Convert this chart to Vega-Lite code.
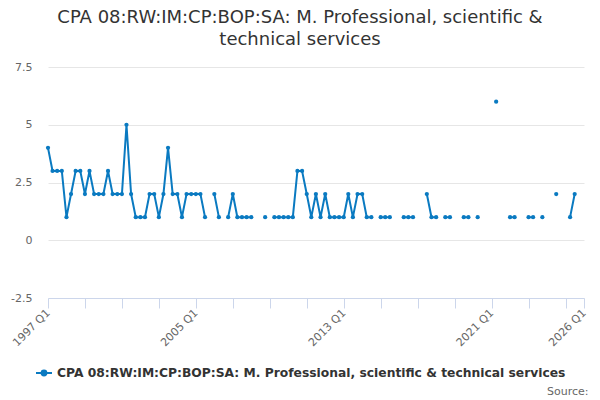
{
  "$schema": "https://vega.github.io/schema/vega-lite/v6.json",
  "width": 536,
  "height": 231,
  "autosize": "none",
  "padding": {"left": 48, "top": 67, "right": 16, "bottom": 102},
  "background": "white",
  "config": {"view": {"stroke": null}, "font": "DejaVu Sans"},
  "title": {
    "text": ["CPA 08:RW:IM:CP:BOP:SA: M. Professional, scientific &", "technical services"],
    "fontSize": 18,
    "fontWeight": "normal",
    "color": "#333333",
    "anchor": "middle",
    "frame": "group",
    "dx": -16,
    "offset": 12,
    "lineHeight": 22
  },
  "data": {
    "values": [
      {"quarter": "1997-01-01", "value": 4}, {"quarter": "1997-04-01", "value": 3}, {"quarter": "1997-07-01", "value": 3}, {"quarter": "1997-10-01", "value": 3},
      {"quarter": "1998-01-01", "value": 1}, {"quarter": "1998-04-01", "value": 2}, {"quarter": "1998-07-01", "value": 3}, {"quarter": "1998-10-01", "value": 3},
      {"quarter": "1999-01-01", "value": 2}, {"quarter": "1999-04-01", "value": 3}, {"quarter": "1999-07-01", "value": 2}, {"quarter": "1999-10-01", "value": 2},
      {"quarter": "2000-01-01", "value": 2}, {"quarter": "2000-04-01", "value": 3}, {"quarter": "2000-07-01", "value": 2}, {"quarter": "2000-10-01", "value": 2},
      {"quarter": "2001-01-01", "value": 2}, {"quarter": "2001-04-01", "value": 5}, {"quarter": "2001-07-01", "value": 2}, {"quarter": "2001-10-01", "value": 1},
      {"quarter": "2002-01-01", "value": 1}, {"quarter": "2002-04-01", "value": 1}, {"quarter": "2002-07-01", "value": 2}, {"quarter": "2002-10-01", "value": 2},
      {"quarter": "2003-01-01", "value": 1}, {"quarter": "2003-04-01", "value": 2}, {"quarter": "2003-07-01", "value": 4}, {"quarter": "2003-10-01", "value": 2},
      {"quarter": "2004-01-01", "value": 2}, {"quarter": "2004-04-01", "value": 1}, {"quarter": "2004-07-01", "value": 2}, {"quarter": "2004-10-01", "value": 2},
      {"quarter": "2005-01-01", "value": 2}, {"quarter": "2005-04-01", "value": 2}, {"quarter": "2005-07-01", "value": 1}, {"quarter": "2005-10-01", "value": null},
      {"quarter": "2006-01-01", "value": 2}, {"quarter": "2006-04-01", "value": 1}, {"quarter": "2006-07-01", "value": null}, {"quarter": "2006-10-01", "value": 1},
      {"quarter": "2007-01-01", "value": 2}, {"quarter": "2007-04-01", "value": 1}, {"quarter": "2007-07-01", "value": 1}, {"quarter": "2007-10-01", "value": 1},
      {"quarter": "2008-01-01", "value": 1}, {"quarter": "2008-04-01", "value": null}, {"quarter": "2008-07-01", "value": null}, {"quarter": "2008-10-01", "value": 1},
      {"quarter": "2009-01-01", "value": null}, {"quarter": "2009-04-01", "value": 1}, {"quarter": "2009-07-01", "value": 1}, {"quarter": "2009-10-01", "value": 1},
      {"quarter": "2010-01-01", "value": 1}, {"quarter": "2010-04-01", "value": 1}, {"quarter": "2010-07-01", "value": 3}, {"quarter": "2010-10-01", "value": 3},
      {"quarter": "2011-01-01", "value": 2}, {"quarter": "2011-04-01", "value": 1}, {"quarter": "2011-07-01", "value": 2}, {"quarter": "2011-10-01", "value": 1},
      {"quarter": "2012-01-01", "value": 2}, {"quarter": "2012-04-01", "value": 1}, {"quarter": "2012-07-01", "value": 1}, {"quarter": "2012-10-01", "value": 1},
      {"quarter": "2013-01-01", "value": 1}, {"quarter": "2013-04-01", "value": 2}, {"quarter": "2013-07-01", "value": 1}, {"quarter": "2013-10-01", "value": 2},
      {"quarter": "2014-01-01", "value": 2}, {"quarter": "2014-04-01", "value": 1}, {"quarter": "2014-07-01", "value": 1}, {"quarter": "2014-10-01", "value": null},
      {"quarter": "2015-01-01", "value": 1}, {"quarter": "2015-04-01", "value": 1}, {"quarter": "2015-07-01", "value": 1}, {"quarter": "2015-10-01", "value": null},
      {"quarter": "2016-01-01", "value": null}, {"quarter": "2016-04-01", "value": 1}, {"quarter": "2016-07-01", "value": 1}, {"quarter": "2016-10-01", "value": 1},
      {"quarter": "2017-01-01", "value": null}, {"quarter": "2017-04-01", "value": null}, {"quarter": "2017-07-01", "value": 2}, {"quarter": "2017-10-01", "value": 1},
      {"quarter": "2018-01-01", "value": 1}, {"quarter": "2018-04-01", "value": null}, {"quarter": "2018-07-01", "value": 1}, {"quarter": "2018-10-01", "value": 1},
      {"quarter": "2019-01-01", "value": null}, {"quarter": "2019-04-01", "value": null}, {"quarter": "2019-07-01", "value": 1}, {"quarter": "2019-10-01", "value": 1},
      {"quarter": "2020-01-01", "value": null}, {"quarter": "2020-04-01", "value": 1}, {"quarter": "2020-07-01", "value": null}, {"quarter": "2020-10-01", "value": null},
      {"quarter": "2021-01-01", "value": null}, {"quarter": "2021-04-01", "value": 6}, {"quarter": "2021-07-01", "value": null}, {"quarter": "2021-10-01", "value": null},
      {"quarter": "2022-01-01", "value": 1}, {"quarter": "2022-04-01", "value": 1}, {"quarter": "2022-07-01", "value": null}, {"quarter": "2022-10-01", "value": null},
      {"quarter": "2023-01-01", "value": 1}, {"quarter": "2023-04-01", "value": 1}, {"quarter": "2023-07-01", "value": null}, {"quarter": "2023-10-01", "value": 1},
      {"quarter": "2024-01-01", "value": null}, {"quarter": "2024-04-01", "value": null}, {"quarter": "2024-07-01", "value": 2}, {"quarter": "2024-10-01", "value": null},
      {"quarter": "2025-01-01", "value": null}, {"quarter": "2025-04-01", "value": 1}, {"quarter": "2025-07-01", "value": 2}
    ]
  },
  "mark": {
    "type": "line",
    "strokeWidth": 2,
    "point": {"filled": true, "size": 18}
  },
  "encoding": {
    "x": {
      "field": "quarter",
      "type": "temporal",
      "scale": {
        "type": "utc",
        "domain": [
          {"year": 1997, "month": 1, "date": 1, "utc": true},
          {"year": 2026, "month": 1, "date": 1, "utc": true}
        ]
      },
      "axis": {
        "title": "Source:",
        "titleAnchor": "end",
        "titleAlign": "right",
        "titleX": 540,
        "titleY": 96,
        "titleBaseline": "alphabetic",
        "titleFontSize": 11,
        "titleFontWeight": "normal",
        "titleColor": "#666666",
        "values": [
          {"year": 1997, "month": 1, "date": 1, "utc": true},
          {"year": 1999, "month": 1, "date": 1, "utc": true},
          {"year": 2001, "month": 1, "date": 1, "utc": true},
          {"year": 2003, "month": 1, "date": 1, "utc": true},
          {"year": 2005, "month": 1, "date": 1, "utc": true},
          {"year": 2007, "month": 1, "date": 1, "utc": true},
          {"year": 2009, "month": 1, "date": 1, "utc": true},
          {"year": 2011, "month": 1, "date": 1, "utc": true},
          {"year": 2013, "month": 1, "date": 1, "utc": true},
          {"year": 2015, "month": 1, "date": 1, "utc": true},
          {"year": 2017, "month": 1, "date": 1, "utc": true},
          {"year": 2019, "month": 1, "date": 1, "utc": true},
          {"year": 2021, "month": 1, "date": 1, "utc": true},
          {"year": 2023, "month": 1, "date": 1, "utc": true},
          {"year": 2025, "month": 1, "date": 1, "utc": true},
          {"year": 2026, "month": 1, "date": 1, "utc": true}
        ],
        "labelExpr": "indexof([1997, 2005, 2013, 2021, 2026], utcyear(datum.value)) >= 0 ? utcyear(datum.value) + ' Q' + (floor(utcmonth(datum.value) / 3) + 1) : ''",
        "labelAngle": -45,
        "labelAlign": "right",
        "labelBaseline": "middle",
        "labelPadding": 3,
        "labelFlush": false,
        "labelOverlap": false,
        "labelFontSize": 11,
        "labelColor": "#666666",
        "domainColor": "#ccd6eb",
        "tickColor": "#ccd6eb",
        "tickSize": 10,
        "grid": false
      }
    },
    "y": {
      "field": "value",
      "type": "quantitative",
      "scale": {"domain": [-2.5, 7.5], "nice": false, "zero": false},
      "axis": {
        "title": null,
        "values": [-2.5, 0, 2.5, 5, 7.5],
        "labelExpr": "'' + datum.value",
        "domain": false,
        "ticks": false,
        "labelPadding": 16,
        "labelFontSize": 11,
        "labelColor": "#666666",
        "gridColor": "#e6e6e6"
      }
    },
    "color": {
      "datum": "CPA 08:RW:IM:CP:BOP:SA: M. Professional, scientific & technical services",
      "type": "nominal",
      "scale": {"range": ["#0a7ac1"]},
      "legend": {
        "title": null,
        "orient": "none",
        "legendX": -13,
        "legendY": 297,
        "symbolType": "M-1,0L1,0M-0.3,0A0.3,0.3,0,1,1,0.3,0A0.3,0.3,0,1,1,-0.3,0Z",
        "symbolSize": 256,
        "symbolStrokeWidth": 2,
        "labelFontSize": 12.3,
        "labelFontWeight": "bold",
        "labelColor": "#333333",
        "labelLimit": 0,
        "encode": {
          "symbols": {
            "update": {
              "fill": {"value": "#0a7ac1"},
              "stroke": {"value": "#0a7ac1"}
            }
          }
        }
      }
    }
  }
}
